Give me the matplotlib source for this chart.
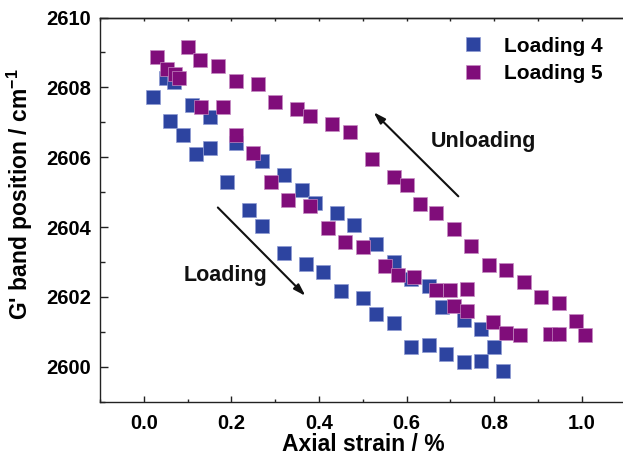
import numpy as np
import matplotlib
matplotlib.use("Agg")
import matplotlib.pyplot as plt

plt.rcParams['font.family'] = ['Liberation Sans', 'DejaVu Sans']
plt.rcParams['font.weight'] = 'bold'
plt.rcParams['mathtext.fontset'] = 'custom'
plt.rcParams['mathtext.rm'] = 'Liberation Sans:bold'
plt.rcParams['mathtext.bf'] = 'Liberation Sans:bold'
plt.rcParams['mathtext.default'] = 'bf'

# ---- data ----
x4 = [0.02, 0.051, 0.06, 0.07, 0.09, 0.11, 0.12, 0.15, 0.15, 0.19, 0.21, 0.24, 0.27, 0.27,
      0.32, 0.32, 0.36, 0.37, 0.39, 0.41, 0.44, 0.45, 0.48, 0.50, 0.53, 0.53, 0.57, 0.57,
      0.61, 0.61, 0.65, 0.65, 0.68, 0.69, 0.73, 0.73, 0.77, 0.77, 0.80, 0.82]
y4 = [2607.71, 2608.28, 2607.05, 2608.14, 2606.65, 2607.50, 2606.10, 2606.26, 2607.15,
      2605.28, 2606.42, 2604.49, 2605.90, 2604.02, 2605.49, 2603.27, 2605.06, 2602.94,
      2604.68, 2602.71, 2604.40, 2602.17, 2604.06, 2601.97, 2603.52, 2601.50, 2603.00,
      2601.25, 2602.52, 2600.56, 2602.31, 2600.62, 2601.70, 2600.36, 2601.34, 2600.14,
      2601.07, 2600.16, 2600.56, 2599.87]

x5 = [0.031, 0.052, 0.071, 0.081, 0.10, 0.129, 0.13, 0.17, 0.18, 0.21, 0.21, 0.25, 0.26,
      0.29, 0.30, 0.33, 0.35, 0.38, 0.38, 0.42, 0.43, 0.46, 0.47, 0.50, 0.52, 0.55, 0.57,
      0.58, 0.60, 0.617, 0.63, 0.668, 0.668, 0.70, 0.708, 0.709, 0.738, 0.738, 0.748,
      0.788, 0.798, 0.827, 0.827, 0.858, 0.868, 0.907, 0.928, 0.947, 0.948, 0.987, 1.007]
y5 = [2608.88, 2608.52, 2608.38, 2608.28, 2609.15, 2608.79, 2607.45, 2608.61, 2607.45,
      2608.17, 2606.65, 2606.12, 2608.09, 2605.29, 2607.59, 2604.77, 2607.38, 2607.17,
      2604.59, 2603.98, 2606.95, 2603.58, 2606.73, 2603.43, 2605.94, 2602.88, 2605.42,
      2602.64, 2605.21, 2602.57, 2604.65, 2604.39, 2602.19, 2602.19, 2603.94, 2601.75,
      2602.22, 2601.61, 2603.47, 2602.92, 2601.28, 2602.76, 2600.98, 2600.91, 2602.44,
      2602.01, 2600.93, 2601.82, 2600.93, 2601.30, 2600.91]

series_labels = ["Loading 4", "Loading 5"]
xticks = [0.0, 0.2, 0.4, 0.6, 0.8, 1.0]
yticks = [2600, 2602, 2604, 2606, 2608, 2610]

blue = '#2D44A0'
purple = '#800D7A'

fig = plt.figure(figsize=(6.23, 4.63), dpi=100)
ax = fig.add_axes([0.1605, 0.1324, 0.8438, 0.8298])

ax.plot(x4, y4, 's', color=blue, markersize=10.3, markeredgecolor='#8E9BD3',
        markeredgewidth=0.5, label=series_labels[0], linestyle='none')
ax.plot(x5, y5, 's', color=purple, markersize=10.3, markeredgecolor='#C58BC2',
        markeredgewidth=0.5, label=series_labels[1], linestyle='none')

ax.set_xlim(-0.1, 1.1)
ax.set_ylim(2599.05, 2610)
ax.set_xticks(xticks)
ax.set_xticklabels([f"{v:.1f}" for v in xticks])
ax.set_xticks(np.arange(-0.1, 1.101, 0.1), minor=True)
ax.set_yticks(yticks)
ax.set_yticks(np.arange(2599, 2610.01, 1), minor=True)

for s in ['left', 'bottom', 'top']:
    ax.spines[s].set_linewidth(1.0)
    ax.spines[s].set_color('#222222')
ax.spines['right'].set_visible(False)

ax.tick_params(axis='x', which='major', direction='in', length=4.3, width=1.0,
               pad=9, labelsize=14.5, color='#222222')
ax.tick_params(axis='x', which='minor', direction='in', length=2.2, width=1.0, color='#222222')
ax.tick_params(axis='y', which='major', direction='in', length=5.8, width=1.0,
               pad=6.5, labelsize=14.5, color='#222222')
ax.tick_params(axis='y', which='minor', direction='in', length=3.6, width=1.0, color='#222222')
ax.tick_params(right=False, top=False, which='both')

sec = ax.secondary_xaxis('top')
sec.set_xticks(np.arange(-0.1, 1.101, 0.1))
sec.tick_params(direction='in', length=2.0, width=1.0, labeltop=False, color='#222222')
sec.spines['top'].set_linewidth(1.0)
sec.spines['top'].set_color('#222222')

ax.set_xlabel("Axial strain / %", fontsize=16.5, fontweight='bold', labelpad=0)
ax.set_ylabel("G' band position / cm$^{-1}$", fontsize=16.5, fontweight='bold')
ax.yaxis.set_label_coords(-0.124, 0.54)

leg = ax.legend(loc='upper left', bbox_to_anchor=(0.69, 0.95), frameon=False,
                fontsize=15, numpoints=1, handlelength=1.0, handletextpad=1.0,
                labelspacing=0.42, borderpad=0, borderaxespad=0)

ax.annotate("", xy=(0.369, 2602.03), xytext=(0.169, 2604.56),
            arrowprops=dict(arrowstyle='-|>,head_length=0.7,head_width=0.22',
                            color='#111111', lw=1.5, shrinkA=0, shrinkB=0))
ax.annotate("", xy=(0.5245, 2607.29), xytext=(0.718, 2604.88),
            arrowprops=dict(arrowstyle='-|>,head_length=0.7,head_width=0.22',
                            color='#111111', lw=1.5, shrinkA=0, shrinkB=0))
ax.text(0.186, 2602.62, "Loading", fontsize=15.5, fontweight='bold',
        ha='center', va='center', color='#111111')
ax.text(0.775, 2606.46, "Unloading", fontsize=15.5, fontweight='bold',
        ha='center', va='center', color='#111111')

fig.savefig("out.png", dpi=100)
